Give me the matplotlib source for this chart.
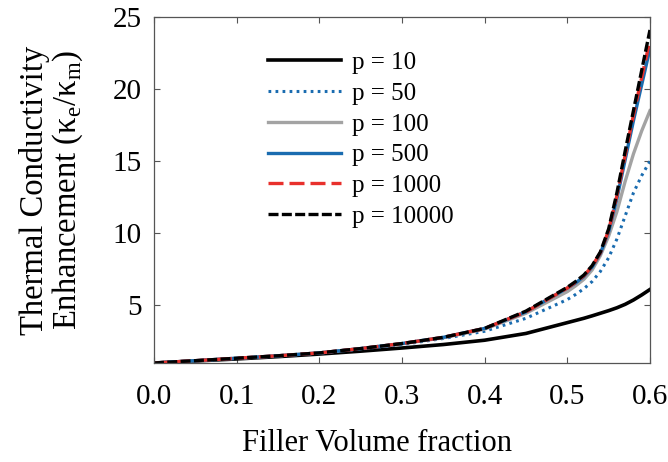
import matplotlib
matplotlib.use('Agg')
import matplotlib.pyplot as plt
import numpy as np

plt.rcParams['font.family'] = ['Liberation Serif', 'DejaVu Serif']
plt.rcParams['mathtext.fontset'] = 'custom'
plt.rcParams['mathtext.rm'] = 'Liberation Serif'

# filler volume fraction
x = [0.0, 0.05, 0.1, 0.15, 0.2, 0.25, 0.3, 0.35, 0.4, 0.45, 0.5,
     0.51, 0.52, 0.53, 0.54, 0.55, 0.56, 0.57, 0.58, 0.59, 0.6]

# enhancement k_e/k_m
p10 = [1.0, 1.14, 1.28, 1.44, 1.62, 1.82, 2.04, 2.28, 2.58, 3.05, 3.8,
       3.95, 4.1, 4.27, 4.45, 4.63, 4.83, 5.07, 5.37, 5.72, 6.1]
p50 = [1.0, 1.15, 1.32, 1.48, 1.68, 1.97, 2.28, 2.7, 3.2, 4.1, 5.4,
       5.75, 6.15, 6.65, 7.35, 8.3, 9.6, 11.2, 12.8, 14.0, 15.0]
p100 = [1.0, 1.16, 1.33, 1.5, 1.7, 2.0, 2.33, 2.75, 3.35, 4.45, 5.95,
        6.35, 6.8, 7.45, 8.45, 9.8, 11.5, 13.6, 15.5, 17.1, 18.5]
p500 = [1.0, 1.16, 1.33, 1.5, 1.7, 2.0, 2.35, 2.78, 3.4, 4.55, 6.2,
        6.55, 7.0, 7.65, 8.6, 10.1, 12.4, 15.1, 17.8, 20.3, 22.8]
p1000 = [1.0, 1.16, 1.33, 1.5, 1.7, 2.0, 2.35, 2.78, 3.4, 4.55, 6.2,
         6.6, 7.05, 7.7, 8.65, 10.2, 12.6, 15.4, 18.2, 20.8, 23.4]
p10000 = [1.0, 1.16, 1.33, 1.5, 1.7, 2.0, 2.35, 2.78, 3.4, 4.6, 6.25,
          6.65, 7.1, 7.75, 8.7, 10.3, 12.8, 15.7, 18.5, 21.3, 24.1]

labels = ['p = 10', 'p = 50', 'p = 100', 'p = 500', 'p = 1000', 'p = 10000']

blue = '#1a6cb0'

fig = plt.figure(figsize=(6.68, 4.62), dpi=100)
ax = fig.add_axes([0.2305, 0.2143, 0.7425, 0.7489])

ax.plot(x, p10, color='black', lw=2.6, label=labels[0])
ax.plot(x, p50, color=blue, lw=2.2, dashes=(0.9, 1.4), label=labels[1])
ax.plot(x, p100, color='#a3a3a3', lw=2.4, label=labels[2])
ax.plot(x, p500, color=blue, lw=2.4, label=labels[3])
ax.plot(x, p1000, color='#e8302c', lw=2.4, dashes=(4.5, 1.8), label=labels[4])
ax.plot(x, p10000, color='black', lw=2.4, dashes=(3.0, 1.0), label=labels[5])

ax.set_xlim(0, 0.6)
ax.set_ylim(1, 25)
ax.set_xticks(np.arange(0, 0.61, 0.1))
ax.set_xticklabels(['%.1f' % v for v in np.arange(0, 0.61, 0.1)])
ax.set_yticks([5, 10, 15, 20, 25])

ax.tick_params(direction='in', top=True, right=True, length=4, width=0.8,
               color='#555555', labelsize=21)
ax.tick_params(axis='x', pad=15)
ax.tick_params(axis='y', pad=9)
for s in ax.spines.values():
    s.set_color('#555555')
    s.set_linewidth(0.9)

ax.set_xlabel('Filler Volume fraction', fontsize=22)
ax.xaxis.set_label_coords(0.45, -0.19)
ax.set_ylabel('Thermal Conductivity\nEnhancement (κ$_\\mathrm{e}$/κ$_\\mathrm{m}$)',
              fontsize=23.5, linespacing=1.0)
ax.yaxis.set_label_coords(-0.14, 0.5)

ax.legend(loc='upper left', bbox_to_anchor=(0.23, 0.9), frameon=False,
          fontsize=18, handlelength=2.9, handletextpad=0.45,
          labelspacing=0.33, borderpad=0, borderaxespad=0)

fig.savefig('out.png', dpi=100)
